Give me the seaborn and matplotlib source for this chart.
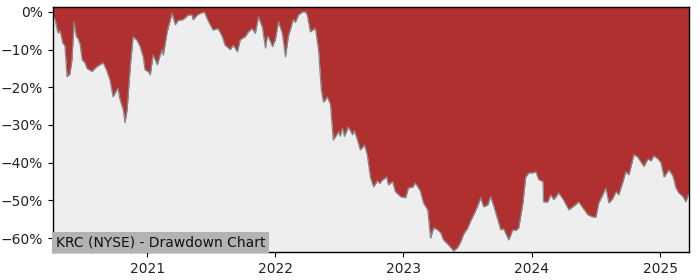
import matplotlib
matplotlib.use("Agg")
import matplotlib.pyplot as plt
import matplotlib.dates as mdates
from matplotlib.ticker import FuncFormatter
import numpy as np
import pandas as pd
import seaborn as sns

title_text = "KRC (NYSE) - Drawdown Chart"

dates = [
    "2020-04-08", "2020-04-14", "2020-04-22", "2020-04-28", "2020-05-06", "2020-05-12",
    "2020-05-18", "2020-05-26", "2020-06-01", "2020-06-07", "2020-06-13", "2020-06-18",
    "2020-06-24", "2020-06-30", "2020-07-08", "2020-07-14", "2020-07-28", "2020-08-11",
    "2020-08-20", "2020-08-29", "2020-09-09", "2020-09-17", "2020-09-26", "2020-10-07",
    "2020-10-10", "2020-10-16", "2020-10-25", "2020-10-30", "2020-11-05", "2020-11-14",
    "2020-11-22", "2020-12-03", "2020-12-12", "2020-12-21", "2020-12-26",
    "2021-01-04", "2021-01-10", "2021-01-18", "2021-01-30", "2021-02-07", "2021-02-13",
    "2021-02-16", "2021-02-27", "2021-03-08", "2021-03-13", "2021-03-22", "2021-03-30",
    "2021-04-14", "2021-04-28", "2021-05-09", "2021-05-12", "2021-05-24", "2021-06-01",
    "2021-06-13", "2021-06-21", "2021-06-30", "2021-07-08", "2021-07-22", "2021-08-03",
    "2021-08-11", "2021-08-26", "2021-09-03", "2021-09-15", "2021-09-18", "2021-09-23",
    "2021-10-08", "2021-10-16", "2021-10-27", "2021-11-05", "2021-11-14", "2021-11-25",
    "2021-12-04", "2021-12-09", "2021-12-12", "2021-12-24",
    "2022-01-01", "2022-01-10", "2022-01-21", "2022-01-30", "2022-02-07", "2022-02-21",
    "2022-02-27", "2022-03-08", "2022-03-19", "2022-03-28", "2022-04-02", "2022-04-11",
    "2022-04-25", "2022-05-04", "2022-05-12", "2022-05-18", "2022-05-24", "2022-05-29",
    "2022-06-07", "2022-06-15", "2022-06-30", "2022-07-05", "2022-07-11", "2022-07-17",
    "2022-07-28", "2022-08-09", "2022-08-14", "2022-08-23", "2022-08-31", "2022-09-12",
    "2022-09-20", "2022-09-29", "2022-10-08", "2022-10-19", "2022-10-25", "2022-11-02",
    "2022-11-14", "2022-11-19", "2022-12-01", "2022-12-09", "2022-12-24",
    "2023-01-07", "2023-01-15", "2023-01-27", "2023-02-04", "2023-02-18", "2023-02-27",
    "2023-03-11", "2023-03-19", "2023-03-28", "2023-04-08", "2023-04-17", "2023-04-25",
    "2023-05-09", "2023-05-24", "2023-06-04", "2023-06-13", "2023-06-21", "2023-07-03",
    "2023-07-11", "2023-07-20", "2023-07-31", "2023-08-09", "2023-08-17", "2023-08-29",
    "2023-09-06", "2023-09-15", "2023-09-26", "2023-10-05", "2023-10-13", "2023-10-28",
    "2023-11-08", "2023-11-17", "2023-11-25", "2023-12-07", "2023-12-15", "2023-12-24",
    "2024-01-04", "2024-01-13", "2024-01-21", "2024-02-02", "2024-02-04", "2024-02-16",
    "2024-02-24", "2024-03-04", "2024-03-18", "2024-04-01", "2024-04-16", "2024-04-30",
    "2024-05-14", "2024-05-26", "2024-06-09", "2024-06-23", "2024-07-02", "2024-07-10",
    "2024-07-24", "2024-07-30", "2024-08-08", "2024-08-19", "2024-08-28", "2024-09-05",
    "2024-09-17", "2024-09-25", "2024-10-04", "2024-10-18", "2024-10-29", "2024-11-07",
    "2024-11-16", "2024-11-27", "2024-12-06", "2024-12-14", "2024-12-26",
    "2025-01-03", "2025-01-12", "2025-01-26", "2025-02-06", "2025-02-15", "2025-02-23",
    "2025-03-07", "2025-03-15", "2025-03-24",
]

drawdown_pct = [
    -1.0, -2.0, -5.6, -5.0, -8.3, -9.0,
    -17.2, -16.5, -12.7, -2.6, -6.5, -7.0,
    -8.5, -12.7, -13.5, -15.0, -15.8, -14.5,
    -14.0, -13.5, -15.8, -18.0, -22.5, -20.7,
    -20.3, -23.3, -26.0, -29.4, -26.0, -14.5,
    -6.6, -7.5, -9.2, -12.0, -15.4,
    -15.8, -16.7, -11.4, -14.0, -11.5, -10.0,
    -11.5, -5.3, -2.1, -0.3, -3.4, -2.3,
    -2.0, -0.8, -0.8, -2.1, -0.8, -0.4,
    0.0, -1.8, -3.5, -4.8, -4.4, -6.5,
    -8.8, -10.0, -8.8, -10.6, -9.4, -7.4,
    -6.5, -5.3, -4.4, -5.7, -1.3, -4.0,
    -9.6, -6.5, -6.5, -9.2,
    -7.4, -2.6, -5.7, -11.9, -6.5, -2.0,
    -2.8, -0.8, 0.0, 0.0, -0.8, -5.3,
    -4.3, -10.0, -20.7, -23.9, -23.3, -22.5,
    -24.5, -34.0, -31.8, -33.0, -30.8, -33.0,
    -30.5, -32.6, -31.5, -34.0, -36.6, -35.3,
    -38.0, -44.0, -46.4, -44.8, -45.5, -44.6,
    -43.8, -45.9, -45.0, -47.7, -49.0,
    -49.3, -46.7, -46.5, -45.4, -47.5, -50.7,
    -52.5, -60.0, -57.3, -57.8, -58.6, -60.5,
    -61.8, -63.4, -62.5, -61.0, -59.0, -57.3,
    -55.5, -53.8, -51.5, -49.3, -51.7, -51.2,
    -49.0, -51.5, -55.0, -57.8, -57.5, -60.5,
    -57.8, -58.0, -57.3, -50.7, -43.8, -42.7,
    -42.7, -42.4, -44.5, -45.0, -50.4, -50.4,
    -48.5, -49.8, -48.0, -49.9, -52.5, -51.5,
    -50.4, -52.0, -53.8, -54.4, -54.4, -50.7,
    -48.0, -46.7, -50.7, -49.5, -47.7, -48.5,
    -45.0, -42.4, -43.2, -37.9, -38.5, -39.8,
    -41.0, -39.0, -39.5, -38.2, -39.0,
    -40.0, -43.8, -41.9, -43.5, -46.7, -48.0,
    -49.0, -50.4, -48.0,
]

year_ticks = ["2021", "2022", "2023", "2024", "2025"]
y_ticks = [0, -10, -20, -30, -40, -50, -60]

sns.set_style("ticks")
plt.rcParams["font.family"] = ["DejaVu Sans"]

df = pd.DataFrame({"date": pd.to_datetime(dates), "dd": drawdown_pct})

fig = plt.figure(figsize=(7, 2.8), dpi=100)
ax = fig.add_axes([53 / 700, 28 / 280, 636 / 700, 245 / 280])

y_top = 1.3
y_bot = -63.7
ax.set_facecolor("#eeeeee")
ax.fill_between(df["date"], df["dd"], y_top, color="#b03030", linewidth=0, zorder=1)
sns.lineplot(data=df, x="date", y="dd", ax=ax, color="#888888", linewidth=0.9, zorder=2)

ax.set_xlim(df["date"].iloc[0], df["date"].iloc[-1])
ax.set_ylim(y_bot, y_top)
ax.set_xticks(pd.to_datetime([y + "-01-01" for y in year_ticks]))
ax.xaxis.set_major_formatter(mdates.DateFormatter("%Y"))
ax.set_yticks(y_ticks)
ax.yaxis.set_major_formatter(FuncFormatter(lambda v, p: f"{int(v)}%".replace("-", "\u2212")))
ax.set_xlabel("")
ax.set_ylabel("")
ax.tick_params(labelsize=10, length=3.5, width=0.8, color="black", labelcolor="#222222")
for s in ax.spines.values():
    s.set_visible(True)
    s.set_color("black")
    s.set_linewidth(1.0)

ax.text(0.004, 0.012, title_text, transform=ax.transAxes, fontsize=10, color="#111111",
        ha="left", va="bottom", zorder=5,
        bbox=dict(facecolor="#b3b3b3", edgecolor="none", pad=2.5))

fig.savefig("out.png", dpi=100)
